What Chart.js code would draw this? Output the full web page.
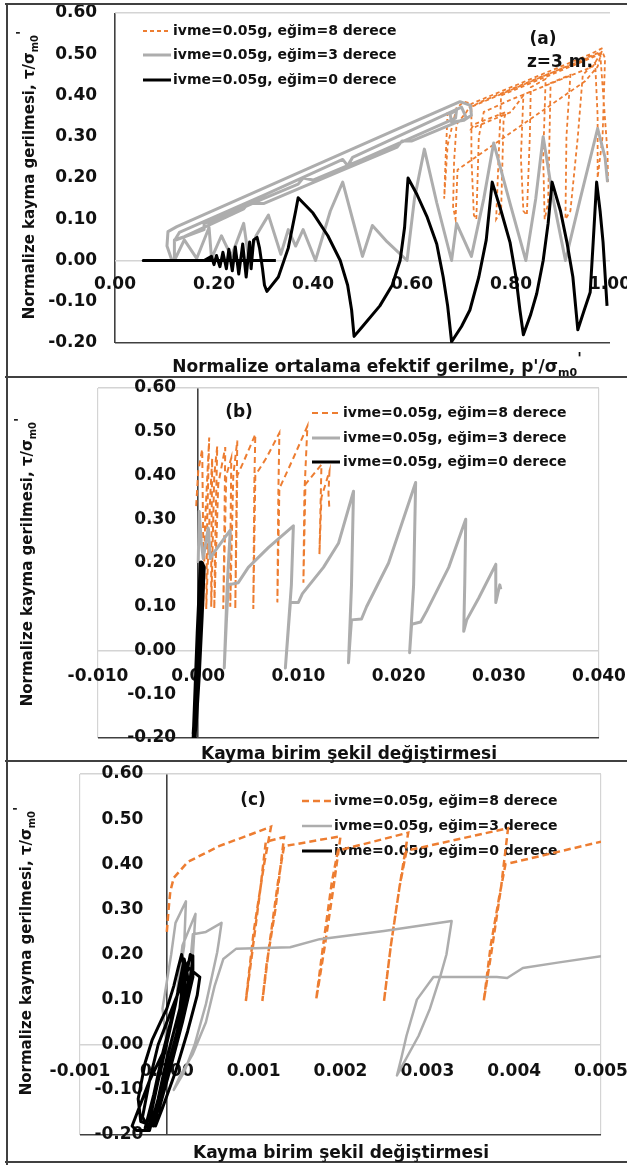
<!DOCTYPE html>
<html>
<head>
<meta charset="utf-8">
<script src="https://cdn.jsdelivr.net/npm/chart.js@4.4.1/dist/chart.umd.min.js"></script>
<style>
  html, body { margin: 0; padding: 0; background: #fff; }
  #page { position: relative; width: 627px; height: 1165px; overflow: hidden; }
  .panel { position: absolute; left: 0; width: 627px; }
</style>
</head>
<body>
<div id="page">
  <div class="panel" style="top:0;height:378px"><canvas id="chartA"></canvas></div>
  <div class="panel" style="top:378px;height:385px"><canvas id="chartB"></canvas></div>
  <div class="panel" style="top:763px;height:402px"><canvas id="chartC"></canvas></div>
</div>
<script>
// series names (same three runs in every panel)
const seriesLabels = ['ivme=0.05g, eğim=8 derece', 'ivme=0.05g, eğim=3 derece', 'ivme=0.05g, eğim=0 derece'];

// tick values
const yTicks = [-0.2, -0.1, 0, 0.1, 0.2, 0.3, 0.4, 0.5, 0.6];
const xTicksA = [0, 0.2, 0.4, 0.6, 0.8, 1.0];
const xTicksB = [-0.01, 0, 0.01, 0.02, 0.03, 0.04];
const xTicksC = [-0.001, 0, 0.001, 0.002, 0.003, 0.004, 0.005];

// (a) p'/sigma_m0' vs tau/sigma_m0'
const aSlope8 = [
  [0.672,0.36],[0.668,0.25],[0.665,0.15],[0.672,0.28],[0.69,0.37],[0.705,0.385],[0.72,0.38],[0.71,0.36],
  [0.69,0.33],[0.685,0.24],[0.683,0.13],[0.688,0.10],[0.692,0.22],[0.74,0.26],[0.95,0.435],[0.975,0.47],
  [0.985,0.515],[0.96,0.50],[0.86,0.45],[0.76,0.40],[0.72,0.38],[0.72,0.25],[0.725,0.11],[0.73,0.10],
  [0.735,0.30],[0.745,0.36],[0.80,0.39],[0.965,0.47],[0.98,0.50],[0.93,0.475],[0.78,0.40],[0.775,0.25],
  [0.77,0.10],[0.78,0.12],[0.785,0.34],[0.79,0.36],[0.725,0.33],[0.72,0.32],[0.80,0.36],[0.825,0.40],
  [0.82,0.25],[0.825,0.12],[0.832,0.11],[0.838,0.30],[0.84,0.42],[0.87,0.44],[0.865,0.25],[0.868,0.10],
  [0.875,0.14],[0.88,0.43],[0.92,0.45],[0.912,0.30],[0.91,0.10],[0.92,0.12],[0.935,0.30],[0.945,0.45],
  [0.97,0.48],[0.975,0.35],[0.975,0.20],[0.985,0.30],[0.99,0.49],[0.985,0.505],[0.85,0.44],[0.74,0.385],
  [0.715,0.37],[0.95,0.49],[0.98,0.505],[0.995,0.26],[0.996,0.19]
];
const aSlope3 = [
  [0.115,0.0],[0.105,0.035],[0.107,0.07],[0.125,0.082],[0.40,0.228],[0.60,0.334],[0.697,0.385],[0.718,0.376],
  [0.72,0.352],[0.705,0.34],[0.68,0.335],[0.677,0.355],[0.69,0.365],[0.688,0.345],
  [0.50,0.245],[0.40,0.195],[0.38,0.20],[0.37,0.185],[0.30,0.15],[0.20,0.097],[0.18,0.09],[0.18,0.075],
  [0.12,0.048],[0.13,0.068],[0.30,0.158],[0.46,0.245],[0.47,0.23],[0.48,0.25],[0.70,0.372],
  [0.71,0.345],[0.60,0.29],[0.58,0.29],[0.57,0.275],[0.45,0.214],[0.30,0.138],[0.27,0.14],[0.26,0.125],
  [0.14,0.058],[0.12,0.05],[0.12,0.0],
  [0.14,0.05],[0.165,0.005],[0.19,0.08],[0.195,0.005],[0.215,0.06],[0.235,0.01],[0.26,0.09],[0.27,0.005],
  [0.285,0.06],[0.31,0.11],[0.335,0.015],[0.35,0.075],[0.365,0.035],[0.38,0.075],[0.405,0.0],[0.435,0.12],
  [0.46,0.19],[0.48,0.10],[0.50,0.01],[0.52,0.085],[0.55,0.045],[0.59,0.0],[0.605,0.15],[0.625,0.27],
  [0.65,0.14],[0.68,0.0],[0.69,0.09],[0.72,0.01],[0.745,0.15],[0.765,0.285],[0.80,0.13],[0.83,0.0],
  [0.85,0.15],[0.865,0.30],[0.885,0.15],[0.91,0.0],[0.94,0.15],[0.975,0.32],[0.99,0.25],[0.995,0.19]
];
const aSlope0 = [
  [0.325,0.0],[0.057,0.0],[0.18,0.0],[0.195,0.01],[0.2,-0.01],[0.205,0.012],[0.212,-0.015],[0.218,0.02],
  [0.225,-0.02],[0.23,0.027],[0.237,-0.025],[0.243,0.033],[0.25,-0.033],[0.258,0.04],[0.265,-0.04],
  [0.272,0.045],[0.275,-0.02],[0.28,0.05],[0.287,0.056],[0.292,0.03],[0.298,-0.02],[0.302,-0.06],
  [0.307,-0.075],[0.33,-0.04],[0.35,0.03],[0.365,0.12],[0.37,0.152],[0.40,0.115],[0.43,0.06],[0.455,0.0],
  [0.47,-0.06],[0.478,-0.12],[0.483,-0.184],[0.50,-0.16],[0.535,-0.11],[0.56,-0.06],[0.576,0.0],
  [0.585,0.08],[0.592,0.20],[0.61,0.16],[0.63,0.107],[0.65,0.04],[0.663,-0.04],[0.672,-0.11],[0.68,-0.197],
  [0.70,-0.16],[0.717,-0.12],[0.735,-0.04],[0.75,0.05],[0.762,0.19],[0.78,0.12],[0.798,0.044],[0.81,-0.04],
  [0.818,-0.12],[0.825,-0.18],[0.84,-0.13],[0.852,-0.08],[0.865,0.0],[0.875,0.09],[0.883,0.19],[0.90,0.12],
  [0.913,0.044],[0.925,-0.04],[0.935,-0.168],[0.948,-0.12],[0.96,-0.077],[0.966,0.044],[0.973,0.19],
  [0.98,0.12],[0.986,0.044],[0.994,-0.11]
];

// (b) shear strain vs tau/sigma_m0'
const bSlope8 = [
  [-0.0002,0.33],[0.0,0.41],[0.0004,0.46],[0.0005,0.25],[0.0005,0.10],[0.0007,0.30],[0.0011,0.487],
  [0.0009,0.30],[0.0008,0.095],[0.0012,0.35],[0.0014,0.44],[0.0013,0.20],[0.0013,0.10],[0.0016,0.40],
  [0.0019,0.467],[0.0017,0.25],[0.0016,0.095],[0.0020,0.38],[0.0027,0.465],[0.0026,0.25],[0.0025,0.095],
  [0.0028,0.40],[0.0033,0.44],[0.0032,0.20],[0.0032,0.10],[0.0035,0.40],[0.0039,0.48],[0.0038,0.30],
  [0.0037,0.095],[0.0039,0.40],[0.0045,0.43],[0.0057,0.494],[0.0056,0.38],[0.0055,0.095],[0.0057,0.40],
  [0.0068,0.44],[0.0081,0.497],[0.0080,0.36],[0.0079,0.11],[0.0081,0.37],[0.0095,0.44],[0.0109,0.513],
  [0.0106,0.36],[0.0105,0.155],[0.0107,0.38],[0.0123,0.425],[0.0122,0.32],[0.0121,0.22],[0.0123,0.35],
  [0.0131,0.41],[0.0130,0.36],[0.0131,0.32]
];
const bSlope3 = [
  [0.0,0.20],[0.0001,0.318],[0.0003,0.25],[0.0005,0.21],[0.0010,0.28],[0.0012,0.21],[0.0016,0.225],
  [0.0024,0.25],[0.0032,0.275],[0.0029,0.15],[0.0026,-0.04],[0.0028,0.06],[0.0030,0.15],[0.0040,0.155],
  [0.0050,0.19],[0.0070,0.235],[0.0095,0.285],[0.0093,0.15],[0.0087,-0.04],[0.0090,0.05],[0.0092,0.11],
  [0.0100,0.11],[0.0104,0.13],[0.0125,0.19],[0.0140,0.245],[0.0155,0.364],[0.0153,0.15],[0.0150,-0.028],
  [0.0152,0.04],[0.0153,0.07],[0.0163,0.072],[0.0168,0.10],[0.0190,0.20],[0.0217,0.384],[0.0215,0.15],
  [0.0211,-0.005],[0.0213,0.06],[0.0222,0.065],[0.0228,0.09],[0.0250,0.19],[0.0267,0.30],[0.0266,0.15],
  [0.0265,0.044],[0.0268,0.07],[0.0280,0.12],[0.0297,0.197],[0.0297,0.11],[0.0299,0.13],[0.0301,0.15],
  [0.0302,0.14]
];
const bSlope0 = [
  [-0.0004,-0.20],[-0.0002,-0.08],[0.0,0.04],[0.0002,0.14],[0.0003,0.20],[0.0005,0.19],[0.0003,0.08],
  [0.0,-0.06],[-0.0003,-0.17],[-0.0004,-0.19],[-0.0001,-0.08],[0.0002,0.08],[0.0004,0.18]
];

// (c) shear strain (zoomed) vs tau/sigma_m0'
const cSlope8 = [
  [0.0,0.25],[0.00002,0.30],[0.00004,0.34],[0.00008,0.37],[0.00024,0.405],[0.0006,0.44],[0.0012,0.483],
  [0.00112,0.40],[0.00100,0.25],[0.00091,0.097],
  [0.00098,0.20],[0.00108,0.35],[0.00114,0.45],[0.00135,0.46],
  [0.00125,0.30],[0.00115,0.18],[0.00110,0.097],
  [0.00118,0.22],[0.00128,0.36],[0.00135,0.44],[0.0020,0.462],
  [0.00192,0.35],[0.00182,0.22],[0.00172,0.10],
  [0.00180,0.22],[0.00190,0.36],[0.00197,0.43],[0.00278,0.47],
  [0.00268,0.35],[0.00258,0.22],[0.0025,0.095],
  [0.00258,0.22],[0.00268,0.35],[0.00276,0.43],[0.00393,0.48],
  [0.00385,0.35],[0.00375,0.22],[0.00365,0.097],
  [0.00373,0.22],[0.00383,0.33],[0.0039,0.40],[0.0050,0.45]
];
const cSlope3 = [
  [0.0,0.0],[-0.00005,0.08],[0.00005,0.20],[0.0001,0.27],[0.00022,0.318],[0.0002,0.22],[0.00012,0.12],
  [0.00018,0.22],[0.00033,0.29],[0.0003,0.20],[0.00025,0.14],[0.0003,0.245],[0.00045,0.25],[0.00063,0.27],
  [0.0006,0.23],[0.00058,0.205],[0.00045,0.09],[0.00032,0.0],[0.0002,-0.06],[0.00008,-0.10],[0.00015,-0.07],
  [0.0003,-0.02],[0.00045,0.05],[0.00055,0.13],[0.00065,0.19],[0.0008,0.213],[0.00142,0.216],[0.00176,0.234],
  [0.0025,0.252],[0.00328,0.274],[0.00322,0.20],[0.00315,0.152],[0.00303,0.08],[0.0029,0.02],[0.00265,-0.068],
  [0.0027,-0.03],[0.00276,0.02],[0.00288,0.10],[0.00307,0.15],[0.0038,0.15],[0.00392,0.148],[0.0041,0.17],
  [0.0045,0.182],[0.005,0.196]
];
const cSlope0 = [
  [0.0,0.0],[-0.0002,-0.08],[-0.0004,-0.18],[-0.00035,-0.19],[-0.00022,-0.19],[-0.0001,-0.13],[0.00005,-0.04],
  [0.00015,0.06],[0.00022,0.15],[0.00027,0.20],[0.0003,0.19],[0.00025,0.12],[0.0001,0.0],[-0.00005,-0.10],
  [-0.00015,-0.18],[-0.0003,-0.17],[-0.00033,-0.12],[-0.00025,-0.04],[-0.00017,0.01],[-0.00005,0.06],
  [0.0,0.08],[0.00008,0.13],[0.00013,0.17],[0.00017,0.20],[0.0002,0.17],[0.00015,0.08],[0.0,-0.03],
  [-0.0001,-0.12],[-0.0002,-0.19],[-0.00028,-0.16],[-0.0002,-0.08],[-0.0001,0.0],[0.0001,0.10],[0.00025,0.17],
  [0.00038,0.15],[0.00035,0.11],[0.00024,0.03],[0.0001,-0.06],[-0.00005,-0.14],[-0.00013,-0.18],
  [-0.0002,-0.17],[-0.0001,-0.08],[0.00002,0.02],[0.0001,0.09],[0.0002,0.19],[0.00025,0.14],[0.00012,0.03],
  [-0.00002,-0.07],[-0.00012,-0.16],[-0.00025,-0.185],[-0.00015,-0.11],[-0.00005,-0.02],[0.00007,0.07],
  [0.00018,0.16],[0.00029,0.197],[0.0003,0.15],[0.00018,0.05],[0.00003,-0.06],[-0.0001,-0.15]
];

const ORANGE = '#ED7D31', GRAY = '#ADADAD', BLACK = '#000000';
const LIGHT = '#d4d4d4', DARK = '#404040';
const FONT = '"DejaVu Sans", sans-serif';

Chart.defaults.font.family = FONT;
Chart.defaults.font.weight = 'bold';
Chart.defaults.font.size = 17;
Chart.defaults.color = '#111';

const yTitle = [
  { text: 'Normalize kayma gerilmesi, τ/σ', size: 15, dy: 0 },
  { text: 'm0', size: 10, dy: 4 },
  { text: "'", size: 14, dy: -8 }
];

// decorations for each panel (canvas coords)
const decor = {
  chartA: {
    frame: [[5, 4, 627, 4], [7, 4, 7, 378], [5, 377, 627, 377]],
    legend: { x1: 143, x2: 171, tx: 173, rows: [31, 55, 80] },
    notes: [['(a)', 543, 40], ['z=3 m.', 560, 63]],
    xTitle: { parts: [
      { text: "Normalize ortalama efektif gerilme, p'/σ", size: 17, dy: 0 },
      { text: 'm0', size: 11, dy: 4 },
      { text: "'", size: 15, dy: -8 }], x: 377, y: 366 },
    yTitle: { x: 28, y: 175 }
  },
  chartB: {
    frame: [[7, 0, 7, 385], [5, 383, 627, 383]],
    legend: { x1: 312, x2: 340, tx: 343, rows: [35, 60, 84] },
    notes: [['(b)', 239, 35]],
    xTitle: { parts: [{ text: 'Kayma birim şekil değiştirmesi', size: 17, dy: 0 }], x: 349, y: 375 },
    yTitle: { x: 26, y: 184 }
  },
  chartC: {
    frame: [[7, 0, 7, 402], [5, 399, 627, 399]],
    legend: { x1: 302, x2: 332, tx: 334, rows: [38, 63, 88] },
    notes: [['(c)', 253, 38]],
    xTitle: { parts: [{ text: 'Kayma birim şekil değiştirmesi', size: 17, dy: 0 }], x: 341, y: 389 },
    yTitle: { x: 25, y: 188 }
  }
};

function drawRich(ctx, parts, cx, cy, angle) {
  ctx.save();
  ctx.translate(cx, cy);
  ctx.rotate(angle);
  ctx.textAlign = 'left';
  ctx.textBaseline = 'alphabetic';
  ctx.fillStyle = '#111';
  let widths = parts.map(p => { ctx.font = 'bold ' + p.size + 'px ' + FONT; return ctx.measureText(p.text).width; });
  let x = -widths.reduce((a, b) => a + b, 0) / 2;
  parts.forEach((p, i) => {
    ctx.font = 'bold ' + p.size + 'px ' + FONT;
    ctx.fillText(p.text, x, 6 + p.dy);
    x += widths[i];
  });
  ctx.restore();
}

const panelDecor = {
  id: 'panelDecor',
  beforeDatasetsDraw(chart) {
    const o = decor[chart.canvas.id];
    const ctx = chart.ctx;
    ctx.save();
    chart.data.datasets.forEach((ds, i) => {
      const y = o.legend.rows[i];
      ctx.strokeStyle = ds.borderColor;
      ctx.lineWidth = Math.min(ds.borderWidth, 3);
      ctx.setLineDash(ds.borderDash || []);
      ctx.beginPath();
      ctx.moveTo(o.legend.x1, y);
      ctx.lineTo(o.legend.x2, y);
      ctx.stroke();
      ctx.setLineDash([]);
      ctx.fillStyle = '#111';
      ctx.font = 'bold 14px ' + FONT;
      ctx.textAlign = 'left';
      ctx.textBaseline = 'middle';
      ctx.fillText(ds.label, o.legend.tx, y);
    });
    ctx.restore();
  },
  afterDraw(chart) {
    const o = decor[chart.canvas.id];
    const ctx = chart.ctx;
    ctx.save();
    ctx.strokeStyle = DARK;
    ctx.lineWidth = 2;
    o.frame.forEach(f => {
      ctx.beginPath(); ctx.moveTo(f[0], f[1]); ctx.lineTo(f[2], f[3]); ctx.stroke();
    });
    ctx.fillStyle = '#111';
    ctx.font = 'bold 17px ' + FONT;
    ctx.textAlign = 'center';
    ctx.textBaseline = 'middle';
    o.notes.forEach(n => ctx.fillText(n[0], n[1], n[2]));
    ctx.restore();
    drawRich(ctx, o.xTitle.parts, o.xTitle.x, o.xTitle.y, 0);
    drawRich(ctx, yTitle, o.yTitle.x, o.yTitle.y, -Math.PI / 2);
  }
};

const flatten = s => {
  s.width = 0; s.height = 0;
  s.paddingLeft = 0; s.paddingRight = 0; s.paddingTop = 0; s.paddingBottom = 0;
};
const near = (a, b) => Math.abs(a - b) < 1e-9;

function series(points, idx, style) {
  return Object.assign({
    label: seriesLabels[idx],
    data: points.map(p => ({ x: p[0], y: p[1] })),
    showLine: true,
    pointRadius: 0,
    pointHoverRadius: 0,
    tension: 0,
    order: 3 - idx
  }, style);
}

function makePanel(id, opt) {
  const xMin = opt.xTicks[0], xMax = opt.xTicks[opt.xTicks.length - 1];
  return new Chart(document.getElementById(id), {
    type: 'scatter',
    data: { datasets: opt.datasets },
    options: {
      responsive: true,
      maintainAspectRatio: false,
      animation: false,
      events: [],
      layout: { padding: opt.padding },
      plugins: { legend: { display: false }, tooltip: { enabled: false } },
      scales: {
        x: {
          type: 'linear', min: xMin, max: xMax,
          position: { y: 0 },
          afterBuildTicks: s => { s.ticks = opt.xTicks.map(v => ({ value: v })); },
          afterFit: flatten,
          border: { display: false },
          grid: {
            drawTicks: false,
            color: c => {
              const v = c.tick ? c.tick.value : NaN;
              if (near(v, 0)) return DARK;
              if (opt.boxEdges && (near(v, xMin) || near(v, xMax))) return LIGHT;
              return 'rgba(0,0,0,0)';
            },
            lineWidth: c => (c.tick && near(c.tick.value, 0)) ? 1.6 : 1.2
          },
          ticks: {
            padding: opt.xPad, autoSkip: false, maxRotation: 0,
            callback: v => v.toFixed(opt.xDec)
          }
        },
        y: {
          type: 'linear', min: -0.2, max: 0.6,
          position: { x: opt.yLabelAt },
          afterBuildTicks: s => { s.ticks = yTicks.map(v => ({ value: v })); },
          afterFit: flatten,
          border: { display: false },
          grid: {
            drawTicks: false,
            color: c => {
              const v = c.tick ? c.tick.value : NaN;
              if (near(v, -0.2)) return DARK;
              if (near(v, 0.6) || near(v, 0)) return LIGHT;
              return 'rgba(0,0,0,0)';
            },
            lineWidth: c => (c.tick && near(c.tick.value, -0.2)) ? 1.6 : 1.4
          },
          ticks: { autoSkip: false, callback: v => v.toFixed(2) }
        }
      }
    },
    plugins: [panelDecor]
  });
}

makePanel('chartA', {
  xTicks: xTicksA, xDec: 2, xPad: 14, yLabelAt: -0.036, boxEdges: false,
  padding: { left: 115, right: 17, top: 13, bottom: 35 },
  datasets: [
    series(aSlope8, 0, { borderColor: ORANGE, borderWidth: 1.8, borderDash: [4, 3] }),
    series(aSlope3, 1, { borderColor: GRAY, borderWidth: 3, borderJoinStyle: 'round' }),
    series(aSlope0, 2, { borderColor: BLACK, borderWidth: 3, borderJoinStyle: 'round' })
  ]
});

makePanel('chartB', {
  xTicks: xTicksB, xDec: 3, xPad: 16, yLabelAt: -0.0022, boxEdges: true,
  padding: { left: 98, right: 28, top: 10, bottom: 25 },
  datasets: [
    series(bSlope8, 0, { borderColor: ORANGE, borderWidth: 2, borderDash: [6, 4] }),
    series(bSlope3, 1, { borderColor: GRAY, borderWidth: 3, borderJoinStyle: 'round' }),
    series(bSlope0, 2, { borderColor: BLACK, borderWidth: 5, borderJoinStyle: 'round' })
  ]
});

makePanel('chartC', {
  xTicks: xTicksC, xDec: 3, xPad: 17, yLabelAt: -0.00027, boxEdges: true,
  padding: { left: 80, right: 26, top: 11, bottom: 30 },
  datasets: [
    series(cSlope8, 0, { borderColor: ORANGE, borderWidth: 2.5, borderDash: [7, 4] }),
    series(cSlope3, 1, { borderColor: GRAY, borderWidth: 2.5, borderJoinStyle: 'round' }),
    series(cSlope0, 2, { borderColor: BLACK, borderWidth: 3, borderJoinStyle: 'round' })
  ]
});
</script>
</body>
</html>
